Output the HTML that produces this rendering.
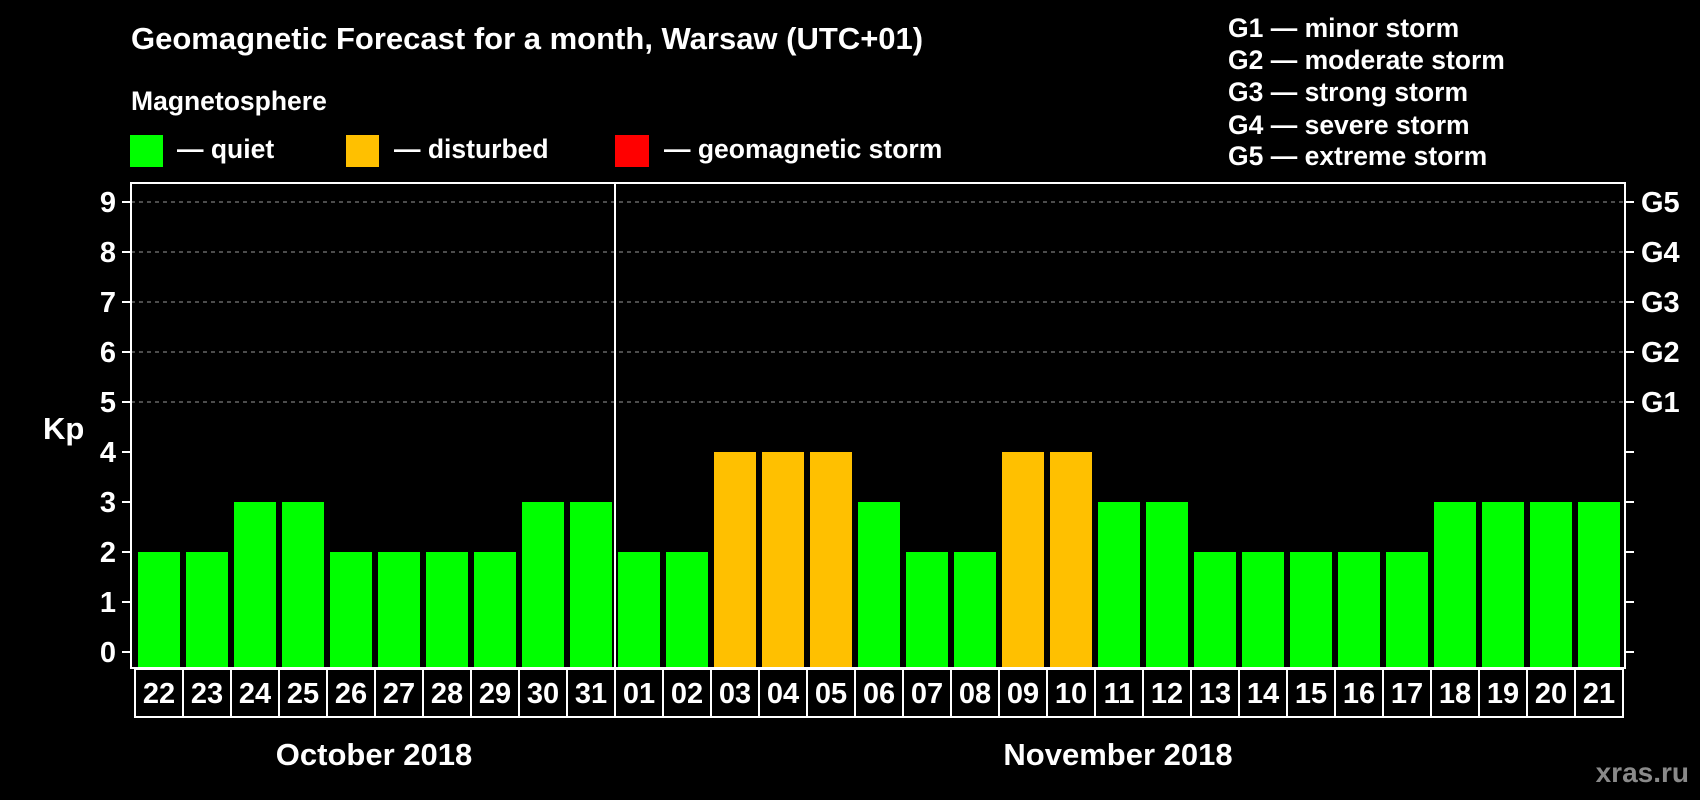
<!DOCTYPE html>
<html><head><meta charset="utf-8"><style>
html,body{margin:0;padding:0;background:#000;}
svg{display:block;font-family:"Liberation Sans",sans-serif;font-weight:bold;}
</style></head><body>
<svg id="chart" width="1700" height="800" viewBox="0 0 1700 800">
<rect x="0" y="0" width="1700" height="800" fill="#000"/>
<text x="131" y="49" fill="#fff" font-size="31">Geomagnetic Forecast for a month, Warsaw (UTC+01)</text>
<text x="131" y="110" fill="#fff" font-size="26.5">Magnetosphere</text>
<g><rect x="130" y="135" width="33" height="32" fill="#00ff00"/><text x="177" y="158" fill="#fff" font-size="26.5">— quiet</text></g>
<g><rect x="346" y="135" width="33" height="32" fill="#ffc000"/><text x="394" y="158" fill="#fff" font-size="26.5">— disturbed</text></g>
<g><rect x="615" y="135" width="34" height="32" fill="#ff0000"/><text x="664" y="158" fill="#fff" font-size="26.5">— geomagnetic storm</text></g>
<g fill="#fff" font-size="26.5">
<text x="1228" y="37">G1 — minor storm</text>
<text x="1228" y="69">G2 — moderate storm</text>
<text x="1228" y="101">G3 — strong storm</text>
<text x="1228" y="134">G4 — severe storm</text>
<text x="1228" y="165">G5 — extreme storm</text>
</g>
<text x="43" y="439" fill="#fff" font-size="31">Kp</text>
<text x="374" y="765" fill="#fff" font-size="31" text-anchor="middle">October 2018</text>
<text x="1118" y="765" fill="#fff" font-size="31" text-anchor="middle">November 2018</text>
<text x="1689" y="782" fill="#8a8a8a" font-size="28" text-anchor="end">xras.ru</text>
<g id="plot"></g>
</svg>
<script>
const days = ["22","23","24","25","26","27","28","29","30","31","01","02","03","04","05","06","07","08","09","10","11","12","13","14","15","16","17","18","19","20","21"];
const kpValues = [2,2,3,3,2,2,2,2,3,3,2,2,4,4,4,3,2,2,4,4,3,3,2,2,2,2,2,3,3,3,3];
const yTicks = [0,1,2,3,4,5,6,7,8,9];
const gLabels = ["","","","","","G1","G2","G3","G4","G5"];
const monthBreakIndex = 10;

(function(){
const NS = "http://www.w3.org/2000/svg";
const plot = document.getElementById("plot");
const pL = 131, pR = 1625, pT = 183, pB = 668;
const x0 = 135, step = 48;
function yS(v){ return 652 - v*50; }
function xS(i){ return x0 + i*step; }
function mk(tag, attrs){ const e=document.createElementNS(NS,tag); for(const k in attrs) e.setAttribute(k,attrs[k]); plot.appendChild(e); return e; }

yTicks.forEach(function(t){
  if(t>=5){
    const g = mk("line",{x1:pL,x2:pR,y1:yS(t),y2:yS(t),stroke:"#999","stroke-width":1,"stroke-dasharray":"4,4"});
    
    
  }
  const tl = mk("line",{x1:pL-9,x2:pL,y1:yS(t),y2:yS(t),stroke:"#fff","stroke-width":2});
  
  
  const tr = mk("line",{x1:pR,x2:pR+9,y1:yS(t),y2:yS(t),stroke:"#fff","stroke-width":2});
  
  
  const lab = mk("text",{x:116,y:yS(t)+10,fill:"#fff","font-size":29,"text-anchor":"end"});
  lab.textContent = t;
  
  
  if(gLabels[t]){
    const gl = mk("text",{x:1641,y:yS(t)+10,fill:"#fff","font-size":29});
    gl.textContent = gLabels[t];
    
    
  }
});

kpValues.forEach(function(v,i){
  const col = v>=5 ? "#ff0000" : (v>=4 ? "#ffc000" : "#00ff00");
  const b = mk("rect",{x:xS(i)+3,y:yS(v),width:step-6,height:pB-yS(v),fill:col});
  
  
});

const fr = mk("rect",{x:pL,y:pT,width:pR-pL,height:pB-pT,fill:"none",stroke:"#fff","stroke-width":2});


const dv = mk("line",{x1:xS(monthBreakIndex),x2:xS(monthBreakIndex),y1:pT,y2:pB,stroke:"#fff","stroke-width":2});



days.forEach(function(d,i){
  const r = mk("rect",{x:xS(i),y:669,width:step,height:48,fill:"none",stroke:"#fff","stroke-width":2});
  
  
  const t = mk("text",{x:xS(i)+step/2,y:703,fill:"#fff","font-size":29,"text-anchor":"middle"});
  t.textContent = d;
  
  
});
})();
</script>
</body></html>
